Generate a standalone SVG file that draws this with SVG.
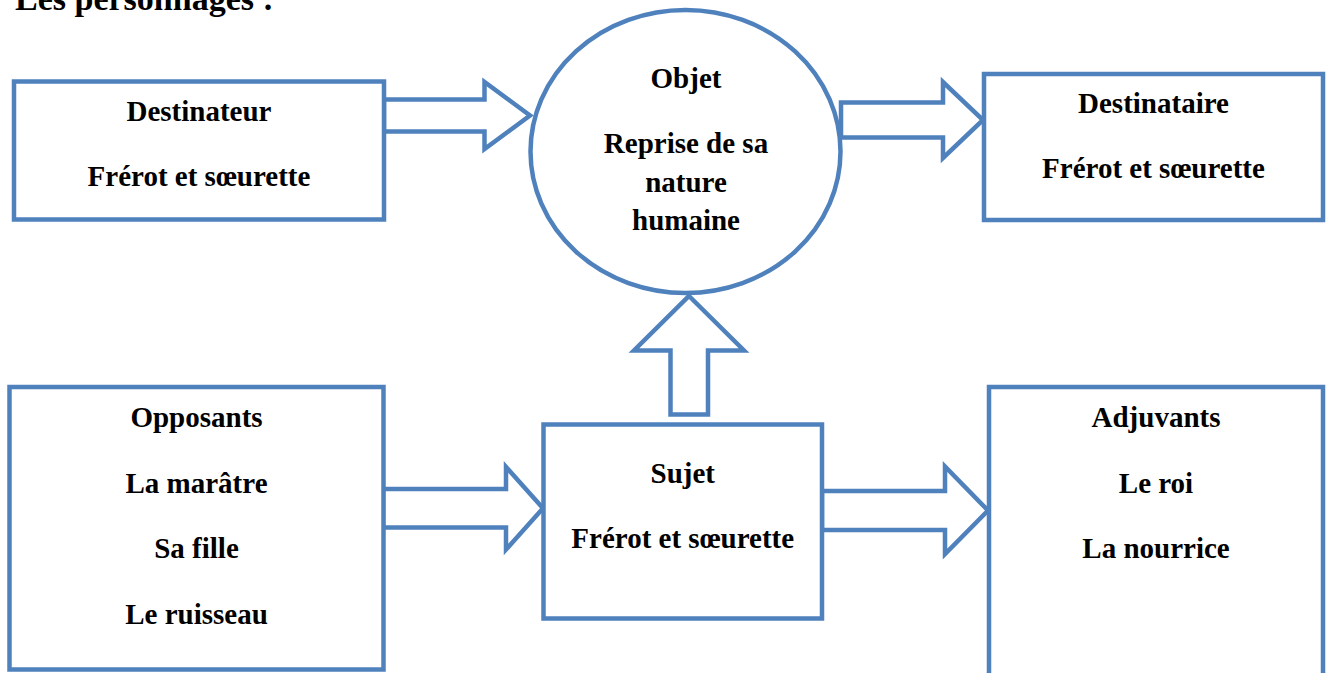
<svg xmlns="http://www.w3.org/2000/svg" width="1328" height="673" viewBox="0 0 1328 673">
<style>
.box{fill:#ffffff;stroke:#4F81BD;stroke-width:4.5}
.arr{fill:#ffffff;stroke:#4F81BD;stroke-width:4.5;stroke-linejoin:miter}
text{font-family:"Liberation Serif","Times New Roman",serif;font-weight:bold;font-size:29px;fill:#000000;text-anchor:middle}
.title{font-size:34px;text-anchor:start}
</style>
<rect width="1328" height="673" fill="#ffffff"/>
<text class="title" x="15" y="10">Les personnages :</text>
<g id="connectors">
<polygon class="arr" points="384,99.5 484.5,99.5 484.5,82 530,115.5 484.5,149 484.5,131.5 384,131.5"/>
<polygon class="arr" points="841,102.5 943,102.5 943,82 983,120 943,158 943,137.5 841,137.5"/>
<polygon class="arr" points="689,296 744,350.5 708,350.5 708,414.5 670.5,414.5 670.5,350.5 634,350.5"/>
<polygon class="arr" points="383,489 506,489 506,467 543,508.3 506,549.5 506,527.5 383,527.5"/>
<polygon class="arr" points="822,491 945,491 945,466.5 988,510.5 945,554 945,530 822,530"/>
</g>
<g id="destinateur">
<rect class="box" x="14" y="81.5" width="370" height="138"/>
<text x="199" y="121">Destinateur</text>
<text x="199" y="186">Frérot et sœurette</text>
</g>
<g id="objet">
<ellipse class="box" cx="685.5" cy="151.5" rx="155" ry="141.5"/>
<text x="686" y="88">Objet</text>
<text x="686" y="153">Reprise de sa</text>
<text x="686" y="192">nature</text>
<text x="686" y="230">humaine</text>
</g>
<g id="destinataire">
<rect class="box" x="984" y="74" width="339" height="146"/>
<text x="1153.5" y="113">Destinataire</text>
<text x="1153.5" y="178">Frérot et sœurette</text>
</g>
<g id="opposants">
<rect class="box" x="9.5" y="387" width="374" height="282.5"/>
<text x="196.5" y="427">Opposants</text>
<text x="196.5" y="493">La marâtre</text>
<text x="196.5" y="558">Sa fille</text>
<text x="196.5" y="624">Le ruisseau</text>
</g>
<g id="sujet">
<rect class="box" x="543.5" y="424.5" width="278.5" height="194"/>
<text x="682.75" y="483">Sujet</text>
<text x="682.75" y="548">Frérot et sœurette</text>
</g>
<g id="adjuvants">
<rect class="box" x="989" y="387" width="334" height="320"/>
<text x="1156" y="427">Adjuvants</text>
<text x="1156" y="493">Le roi</text>
<text x="1156" y="558">La nourrice</text>
</g>
</svg>
